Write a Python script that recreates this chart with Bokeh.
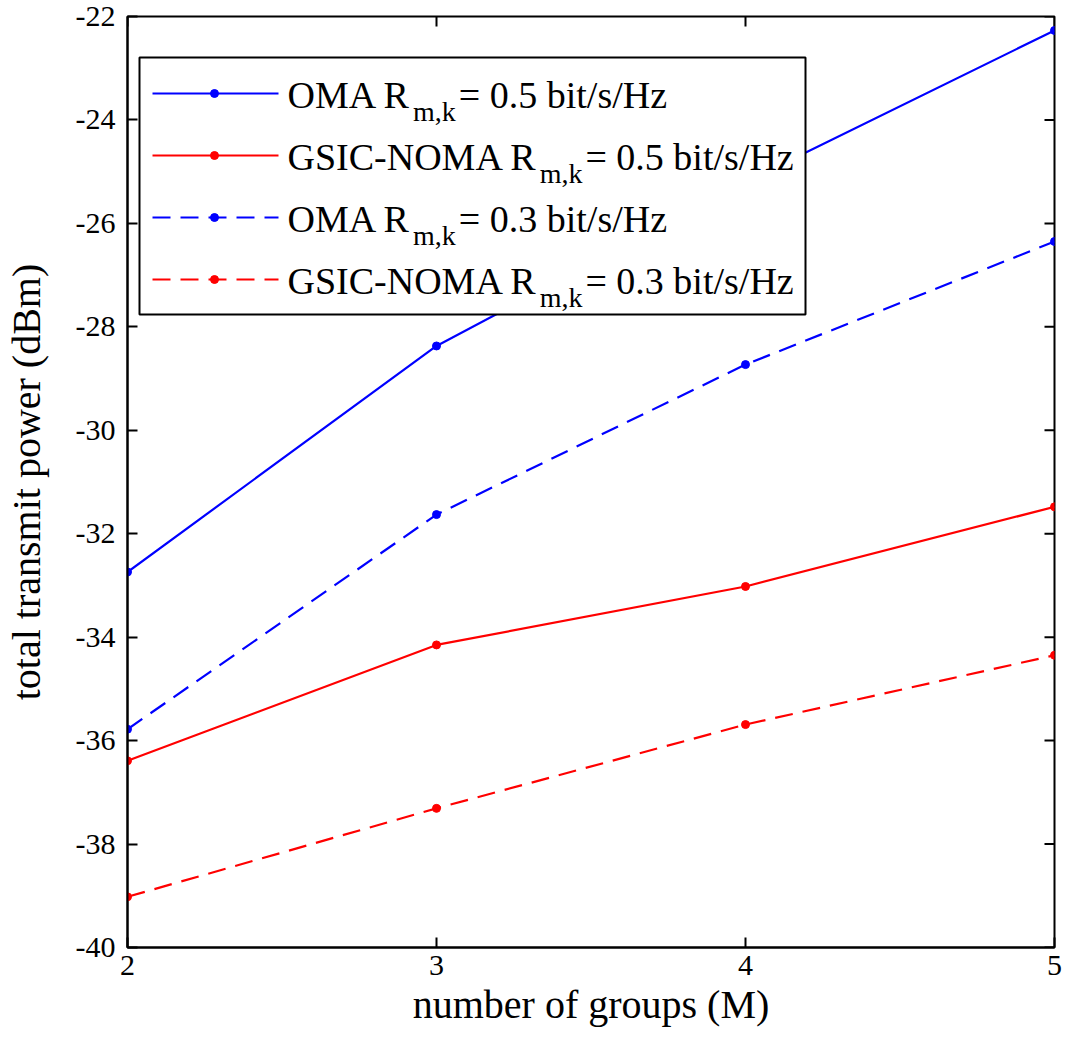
from bokeh.plotting import figure
from bokeh.models import Range1d, FixedTicker
from bokeh.core.properties import value
from bokeh.embed import file_html
from bokeh.resources import INLINE

# ---- data ----
groups = [2, 3, 4, 5]
oma_05 = [-32.74, -28.37, -25.2, -22.27]
gsic_05 = [-36.39, -34.15, -33.02, -31.48]
oma_03 = [-35.78, -31.63, -28.73, -26.35]
gsic_03 = [-39.02, -37.31, -35.69, -34.35]
x_ticks = [2, 3, 4, 5]
y_ticks = [-40, -38, -36, -34, -32, -30, -28, -26, -24, -22]
y_tick_labels = ["-40", "-38", "-36", "-34", "-32", "-30", "-28", "-26", "-24", "-22"]
legend_prefix = ["OMA R", "GSIC-NOMA R", "OMA R", "GSIC-NOMA R"]
legend_sub = ["m,k", "m,k", "m,k", "m,k"]
legend_rest = ["= 0.5 bit/s/Hz", "= 0.5 bit/s/Hz", "= 0.3 bit/s/Hz", "= 0.3 bit/s/Hz"]

FONT = "Liberation Serif"
BLUE = "#0000ff"
RED = "#ff0000"
FW, FH = 927, 931          # frame size in px
X0, X1, Y0, Y1 = 2, 5, -40, -22

p = figure(frame_width=FW, frame_height=FH, output_backend="svg", toolbar_location=None,
           x_range=Range1d(X0, X1), y_range=Range1d(Y0, Y1),
           min_border_left=121, min_border_right=8, min_border_top=16, min_border_bottom=97,
           background_fill_color="white", border_fill_color="white")
p.grid.visible = False
p.outline_line_color = "black"
p.outline_line_width = 2

for ax in (p.xaxis[0], p.yaxis[0]):
    ax.axis_line_width = 2
    ax.axis_line_color = "black"
    ax.major_tick_line_width = 2
    ax.major_tick_line_color = "black"
    ax.major_tick_in = 10
    ax.major_tick_out = 0
    ax.minor_tick_line_color = None
    ax.major_label_text_font = FONT
    ax.major_label_text_font_size = "30px"
    ax.major_label_text_color = "black"
    ax.axis_label_text_font = FONT
    ax.axis_label_text_font_size = "40px"
    ax.axis_label_text_font_style = "normal"
    ax.axis_label_text_color = "black"

p.xaxis.ticker = FixedTicker(ticks=x_ticks)
p.yaxis.ticker = FixedTicker(ticks=y_ticks)
p.yaxis.major_label_overrides = {v: s for v, s in zip(y_ticks, y_tick_labels)}
p.xaxis.major_label_standoff = 8
p.yaxis.major_label_standoff = 12
p.xaxis.axis_label = "number of groups (M)"
p.yaxis.axis_label = "total transmit power (dBm)"
p.xaxis.axis_label_standoff = 4
p.yaxis.axis_label_standoff = 24


def dx(px):
    return X0 + px * (X1 - X0) / FW


def dy(py):
    return Y1 - py * (Y1 - Y0) / FH


# inward ticks on the right and top edges of the box
TICK = 10
p.segment(x0=[X1 - (dx(TICK) - X0)] * len(y_ticks), y0=y_ticks, x1=[X1] * len(y_ticks), y1=y_ticks,
          line_color="black", line_width=2)
p.segment(x0=x_ticks, y0=[Y1 - (Y1 - dy(TICK))] * len(x_ticks), x1=x_ticks, y1=[Y1] * len(x_ticks),
          line_color="black", line_width=2)

# ---- series ----
series = [
    (oma_05, BLUE, "solid"),
    (gsic_05, RED, "solid"),
    (oma_03, BLUE, "18 10"),
    (gsic_03, RED, "18 10"),
]
for vals, col, dash in series:
    p.line(groups, vals, line_color=col, line_width=2.2, line_dash=dash)
    p.scatter(groups, vals, marker="circle", size=8, fill_color=col, line_color=col)

# ---- legend (drawn as glyphs; layout given in px from the frame's top-left) ----
BOX_L, BOX_T, BOX_W, BOX_H = 12, 41, 666, 257
ROW0, PITCH = 77, 62
SAMPLE_L, SAMPLE_R, MARK_X, TEXT_X = 25, 151, 87, 160
MAIN, SUB = 38, 28

p.quad(left=[dx(BOX_L)], right=[dx(BOX_L + BOX_W)], top=[dy(BOX_T)], bottom=[dy(BOX_T + BOX_H)],
       fill_color="white", line_color="black", line_width=2)

W = {"O": 722, "M": 889, "A": 722, " ": 250, "R": 667, "G": 722, "S": 556,
     "I": 333, "C": 667, "-": 333, "N": 722, "m": 778, ",": 250, "k": 500}


def tw(s, size):
    return sum(W.get(c, 500) for c in s) * size / 1000.0


for i, ((vals, col, dash), pre, sub, rest) in enumerate(zip(series, legend_prefix, legend_sub, legend_rest)):
    yc = ROW0 + i * PITCH
    p.segment(x0=[dx(SAMPLE_L)], y0=[dy(yc)], x1=[dx(SAMPLE_R)], y1=[dy(yc)],
              line_color=col, line_width=2.2, line_dash=dash)
    p.scatter(x=[dx(MARK_X)], y=[dy(yc)], marker="circle", size=8, fill_color=col, line_color=col)
    xs = TEXT_X + tw(pre, MAIN) + 2
    xr = xs + tw(sub, SUB) + 3
    p.text(x=[dx(TEXT_X)], y=[dy(yc + 1)], text=[pre], text_font=value(FONT),
           text_font_size=value(f"{MAIN}px"), text_color="black",
           text_baseline="alphabetic", text_align="left")
    p.text(x=[dx(xs)], y=[dy(yc + 18)], text=[sub], text_font=value(FONT),
           text_font_size=value(f"{SUB}px"), text_color="black",
           text_baseline="alphabetic", text_align="left")
    p.text(x=[dx(xr)], y=[dy(yc + 1)], text=[rest], text_font=value(FONT),
           text_font_size=value(f"{MAIN}px"), text_color="black",
           text_baseline="alphabetic", text_align="left")

open("out.html", "w").write(file_html(p, INLINE))
